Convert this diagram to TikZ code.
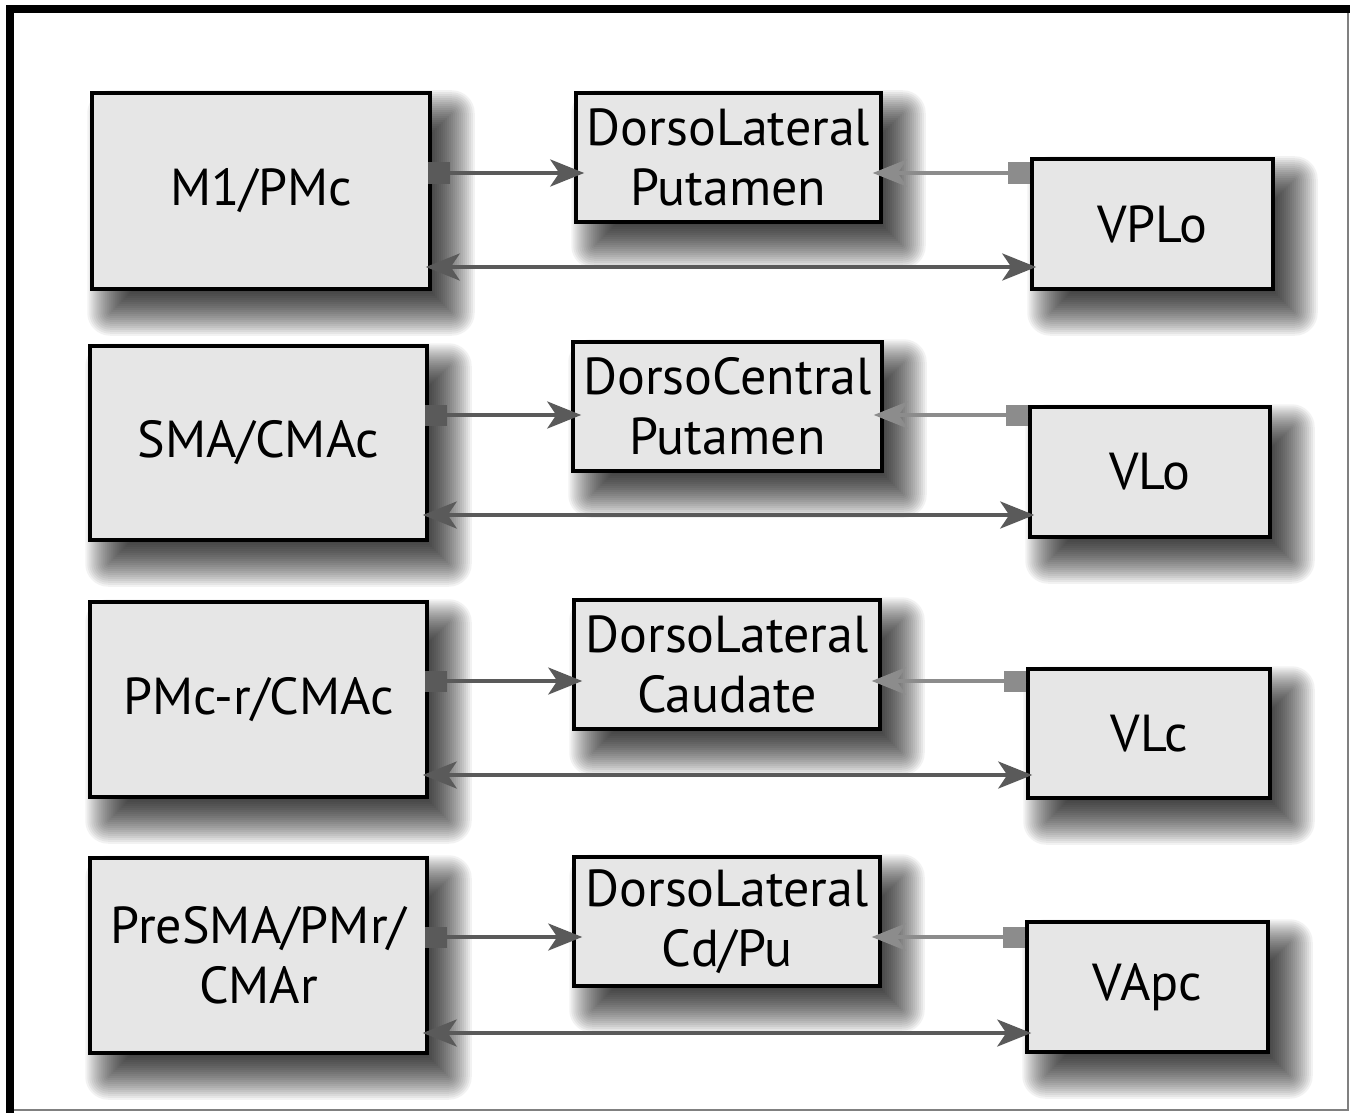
\documentclass[tikz,border=0pt]{standalone}
\usepackage{fontspec}
\setmainfont{PT Sans}
\usetikzlibrary{arrows.meta}
\pgfdeclarelayer{background}
\pgfdeclarelayer{paper}
\pgfsetlayers{paper,background,main}
\definecolor{boxfill}{HTML}{E6E6E6}
\definecolor{darkarr}{HTML}{5A5A5A}
\definecolor{lightarr}{HTML}{8C8C8C}
\tikzset{
  areabox/.style={draw=black, line width=3.5pt, fill=boxfill, align=center,
    font=\fontsize{52}{60}\selectfont, inner sep=0pt},
  fwd/.style={draw=darkarr, line width=3.5pt, -{Stealth[length=34pt,width=27pt,inset=9pt]}},
  bwd/.style={draw=lightarr, line width=3.5pt, -{Stealth[length=34pt,width=27pt,inset=9pt]}},
  both/.style={draw=darkarr, line width=3.5pt, {Stealth[length=34pt,width=27pt,inset=9pt]}-{Stealth[length=34pt,width=27pt,inset=9pt]}},
  darksq/.style={fill=darkarr, minimum width=22pt, minimum height=21pt, inner sep=0pt},
  lightsq/.style={fill=lightarr, minimum width=22pt, minimum height=21pt, inner sep=0pt}
}
\newcommand{\myshadow}[1]{%
  \foreach \k in {0,...,23}{%
    \pgfmathsetmacro\ee{-24+2*\k+1}%
    \pgfmathsetmacro\rr{max(\ee,0.1)}%
    \fill[black, fill opacity=0.05, rounded corners=\rr pt]
      ([shift={(20-\ee,22-\ee)}]#1.north west) rectangle ([shift={(20+\ee,22+\ee)}]#1.south east);
  }%
}
\begin{document}
\begin{tikzpicture}[x=1pt,y=-1pt]
\useasboundingbox (0,0) rectangle (1355,1113);
\begin{pgfonlayer}{paper}
\fill[white] (0,0) rectangle (1355,1113);
\end{pgfonlayer}
% frame
\draw[gray, line width=2pt] (10,9) rectangle (1348,1110);
\draw[black, line width=8pt] (10,1113) -- (10,9) -- (1350,9);

% row 1
\node[areabox, minimum width=338pt, minimum height=196pt] (L1) at (261,191) {M1/PMc};
\node[areabox, minimum width=305pt, minimum height=129pt] (M1) at (728.5,157.5) {DorsoLateral\\Putamen};
\node[areabox, minimum width=241pt, minimum height=130pt] (R1) at (1152.5,224) {VPLo};
% row 2
\node[areabox, minimum width=337pt, minimum height=194pt] (L2) at (258.5,443) {SMA/CMAc};
\node[areabox, minimum width=309pt, minimum height=129pt] (M2) at (727.5,406.5) {DorsoCentral\\Putamen};
\node[areabox, minimum width=240pt, minimum height=130pt] (R2) at (1150,472) {VLo};
% row 3
\node[areabox, minimum width=337pt, minimum height=195pt] (L3) at (258.5,699.5) {PMc-r/CMAc};
\node[areabox, minimum width=306pt, minimum height=129pt] (M3) at (727,664.5) {DorsoLateral\\Caudate};
\node[areabox, minimum width=242pt, minimum height=129pt] (R3) at (1149,733.5) {VLc};
% row 4
\node[areabox, minimum width=337pt, minimum height=195pt] (L4) at (258.5,955.5) {PreSMA/PMr/\\CMAr};
\node[areabox, minimum width=306pt, minimum height=129pt] (M4) at (727,921.5) {DorsoLateral\\Cd/Pu};
\node[areabox, minimum width=241pt, minimum height=130pt] (R4) at (1147.5,987) {VApc};

\begin{pgfonlayer}{background}
\foreach \n in {L1,M1,R1,L2,M2,R2,L3,M3,R3,L4,M4,R4}{\myshadow{\n}}
\end{pgfonlayer}

% connectors
\foreach \r/\ty/\by in {1/173/267, 2/415/515, 3/681/775, 4/937/1033}{
  \coordinate (t\r) at (0,\ty);
  \coordinate (b\r) at (0,\by);
  \draw[fwd] (L\r.east |- t\r) -- ([xshift=10pt]M\r.west |- t\r);
  \draw[bwd] (R\r.west |- t\r) -- ([xshift=-10pt]M\r.east |- t\r);
  \draw[both] ([xshift=-6pt]L\r.east |- b\r) -- ([xshift=6pt]R\r.west |- b\r);
  \node[darksq, anchor=west] (ds\r) at ([xshift=-4pt]L\r.east |- t\r) {};
  \node[lightsq, anchor=east] (ls\r) at ([xshift=0pt]R\r.west |- t\r) {};
}
\end{tikzpicture}
\end{document}
